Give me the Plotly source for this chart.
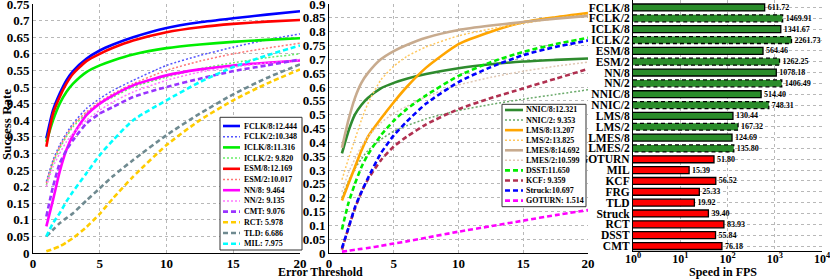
import plotly.graph_objects as go

W, H = 830, 279
def px(x):
    return x / W
def py(y):
    return 1 - y / H

FONT = "Liberation Serif"

# ---------------- data ----------------
thresholds = [1, 1.5, 2, 2.5, 3, 4, 5, 6, 7.5, 10, 12.5, 15, 17.5, 20]

# left panel
fclk8 = [0.345, 0.43, 0.48, 0.52, 0.548, 0.585, 0.61, 0.628, 0.65, 0.678, 0.695, 0.707, 0.718, 0.728]
fclk2 = [0.215, 0.28, 0.325, 0.36, 0.39, 0.435, 0.465, 0.49, 0.52, 0.565, 0.595, 0.62, 0.642, 0.66]
iclk8 = [0.335, 0.40, 0.45, 0.485, 0.51, 0.545, 0.565, 0.58, 0.598, 0.617, 0.628, 0.636, 0.642, 0.647]
iclk2 = [0.205, 0.27, 0.315, 0.35, 0.38, 0.42, 0.45, 0.47, 0.50, 0.53, 0.555, 0.573, 0.588, 0.60]
esm8 = [0.32, 0.42, 0.47, 0.51, 0.54, 0.578, 0.60, 0.618, 0.64, 0.665, 0.68, 0.69, 0.697, 0.702]
esm2 = [0.21, 0.275, 0.32, 0.355, 0.385, 0.425, 0.455, 0.48, 0.51, 0.55, 0.578, 0.60, 0.617, 0.632]
nn8 = [0.08, 0.16, 0.245, 0.31, 0.355, 0.415, 0.45, 0.475, 0.505, 0.535, 0.553, 0.565, 0.573, 0.58]
nn2 = [0.20, 0.26, 0.30, 0.335, 0.36, 0.40, 0.43, 0.455, 0.485, 0.52, 0.545, 0.56, 0.572, 0.58]
cmt = [0.11, 0.20, 0.27, 0.31, 0.34, 0.39, 0.42, 0.44, 0.47, 0.50, 0.525, 0.548, 0.565, 0.583]
rct = [0.005, 0.012, 0.02, 0.032, 0.045, 0.078, 0.118, 0.165, 0.23, 0.325, 0.40, 0.46, 0.51, 0.553]
tld = [0.05, 0.07, 0.09, 0.105, 0.12, 0.158, 0.195, 0.232, 0.28, 0.355, 0.42, 0.478, 0.527, 0.568]
mil = [0.05, 0.09, 0.12, 0.155, 0.185, 0.24, 0.295, 0.34, 0.40, 0.46, 0.515, 0.56, 0.595, 0.625]

left_names = ["FCLK/8", "FCLK/2", "ICLK/8", "ICLK/2", "ESM/8", "ESM/2",
              "NN/8", "NN/2", "CMT", "RCT", "TLD", "MIL"]
left_scores = [12.444, 10.348, 11.316, 9.820, 12.169, 10.017, 9.464, 9.135,
               9.076, 5.978, 6.686, 7.975]
left_series = [fclk8, fclk2, iclk8, iclk2, esm8, esm2, nn8, nn2, cmt, rct, tld, mil]

# middle panel
nnic8 = [0.36, 0.44, 0.50, 0.535, 0.56, 0.595, 0.615, 0.63, 0.647, 0.668, 0.682, 0.692, 0.698, 0.703]
nnic2 = [0.20, 0.26, 0.305, 0.34, 0.37, 0.41, 0.44, 0.46, 0.485, 0.515, 0.537, 0.556, 0.573, 0.59]
lms8 = [0.19, 0.25, 0.31, 0.37, 0.42, 0.485, 0.545, 0.60, 0.67, 0.755, 0.80, 0.834, 0.852, 0.867]
lms2 = [0.265, 0.34, 0.41, 0.48, 0.54, 0.625, 0.675, 0.71, 0.745, 0.785, 0.81, 0.83, 0.848, 0.862]
lmes8 = [0.38, 0.48, 0.56, 0.615, 0.65, 0.70, 0.73, 0.752, 0.778, 0.806, 0.822, 0.835, 0.847, 0.857]
lmes2 = [0.22, 0.29, 0.34, 0.385, 0.42, 0.47, 0.505, 0.53, 0.565, 0.607, 0.635, 0.657, 0.675, 0.69]
dsst = [0.085, 0.18, 0.25, 0.31, 0.355, 0.425, 0.478, 0.52, 0.57, 0.64, 0.69, 0.727, 0.755, 0.778]
kcf = [0.012, 0.09, 0.16, 0.22, 0.265, 0.335, 0.385, 0.42, 0.465, 0.52, 0.56, 0.595, 0.63, 0.665]
struck = [0.018, 0.09, 0.165, 0.22, 0.27, 0.36, 0.425, 0.475, 0.54, 0.618, 0.672, 0.715, 0.745, 0.768]
goturn = [0.005, 0.008, 0.012, 0.015, 0.018, 0.026, 0.034, 0.042, 0.055, 0.077, 0.097, 0.117, 0.137, 0.155]

mid_names = ["NNIC/8", "NNIC/2", "LMS/8", "LMS/2", "LMES/8", "LMES/2",
             "DSST", "KCF", "Struck", "GOTURN"]
mid_scores = [12.321, 9.353, 13.207, 13.825, 14.692, 10.599, 11.650, 9.359, 10.697, 1.514]
mid_series = [nnic8, nnic2, lms8, lms2, lmes8, lmes2, dsst, kcf, struck, goturn]

# right panel
speed_names = ["FCLK/8", "FCLK/2", "ICLK/8", "ICLK/2", "ESM/8", "ESM/2", "NN/8", "NN/2",
               "NNIC/8", "NNIC/2", "LMS/8", "LMS/2", "LMES/8", "LMES/2",
               "GOTURN", "MIL", "KCF", "FRG", "TLD", "Struck", "RCT", "DSST", "CMT"]
speed_fps = [611.72, 1469.91, 1341.67, 2261.73, 564.46, 1262.25, 1078.18, 1406.49,
             514.40, 748.31, 130.44, 167.32, 124.69, 135.80,
             51.80, 15.39, 56.52, 25.33, 19.92, 39.40, 83.93, 55.84, 76.18]

x_ticks = [0, 5, 10, 15, 20]
left_yticks = [i * 0.05 for i in range(16)]
mid_yticks = [i * 0.05 for i in range(19)]
fps_ticks = [1, 10, 100, 1000, 10000]
fps_ticktext = ["10<sup>0</sup>", "10<sup>1</sup>", "10<sup>2</sup>", "10<sup>3</sup>", "10<sup>4</sup>"]

# ---------------- styles ----------------
SOLID, DOT, DASH = "solid", "2px,2px", "5px,3px"
left_styles = [("#0000ff", SOLID, 2.6), ("#5555ff", DOT, 1.5), ("#00ee00", SOLID, 2.6),
               ("#66ee66", DOT, 1.5), ("#ff0000", SOLID, 2.6), ("#ff7777", DOT, 1.5),
               ("#ff00ff", SOLID, 2.6), ("#ff77ff", DOT, 1.5), ("#9933ff", DASH, 2.6),
               ("#ffcc00", DASH, 2.6), ("#6f8a90", DASH, 2.6), ("#00ffff", DASH, 2.6)]
mid_styles = [("#2e8b2e", SOLID, 2.6), ("#6aaa6a", DOT, 1.5), ("#ffa500", SOLID, 2.6),
              ("#ffc860", DOT, 1.5), ("#c8ab8e", SOLID, 2.6), ("#e0c8b4", DOT, 1.5),
              ("#00ee00", DASH, 2.6), ("#b03050", DASH, 2.6), ("#0000ff", DASH, 2.6),
              ("#ff00ff", DASH, 2.6)]
GREEN, RED = "#2a8c2a", "#ff0000"

fig = go.Figure()

for ys, nm, (c, d, w) in zip(left_series, left_names, left_styles):
    fig.add_trace(go.Scatter(x=thresholds, y=ys, mode="lines", name=nm, showlegend=False,
                             line=dict(color=c, dash=d, width=w, shape="spline", smoothing=0.6),
                             xaxis="x", yaxis="y"))
for ys, nm, (c, d, w) in zip(mid_series, mid_names, mid_styles):
    fig.add_trace(go.Scatter(x=thresholds, y=ys, mode="lines", name=nm, showlegend=False,
                             line=dict(color=c, dash=d, width=w, shape="spline", smoothing=0.6),
                             xaxis="x2", yaxis="y2"))

# bars
idx = list(range(len(speed_names)))
n_green = 14
colors = [GREEN if i < n_green else RED for i in idx]
dashed = [nm.endswith("/2") for nm in speed_names]
line_w = [0 if dd else 1.3 for dd in dashed]
BW = 0.64
fig.add_trace(go.Bar(x=speed_fps, y=idx, orientation="h", width=BW,
                     marker=dict(color=colors, line=dict(color="black", width=line_w)),
                     text=[f"{v:.2f}" for v in speed_fps], textposition="outside",
                     textfont=dict(size=8, color="black", family=FONT, weight="bold"),
                     constraintext="none", cliponaxis=False, showlegend=False,
                     xaxis="x3", yaxis="y3"))
for i, v, dd in zip(idx, speed_fps, dashed):
    if dd:
        fig.add_trace(go.Scatter(x=[1, v, v, 1], y=[i - BW / 2, i - BW / 2, i + BW / 2, i + BW / 2],
                                 mode="lines", line=dict(color="black", width=1.3, dash="4px,3px"),
                                 showlegend=False, hoverinfo="skip", xaxis="x3", yaxis="y3"))

grid = dict(showgrid=True, gridcolor="#b8b8b8", griddash="dot", gridwidth=1,
            showline=True, linecolor="black", linewidth=1, zeroline=False, ticks="",
            automargin=False, ticklabeloverflow="allow")

fig.update_layout(
    template="none",
    width=W, height=H, margin=dict(l=0, r=0, t=0, b=0, pad=0, autoexpand=False),
    paper_bgcolor="white", plot_bgcolor="white",
    font=dict(family=FONT, size=13, color="black", weight="bold"),
    xaxis=dict(domain=[px(33), px(300)], range=[0, 20], tickvals=x_ticks, anchor="y",
               ticklabelstandoff=-2, **grid),
    yaxis=dict(domain=[1 - 253 / H, 1 - 4 / H], range=[0, 0.75], tickvals=left_yticks,
               ticktext=[f"{v:.2f}".rstrip("0").rstrip(".") for v in left_yticks], anchor="x", **grid),
    xaxis2=dict(domain=[px(329), px(588)], range=[0, 20], tickvals=x_ticks, anchor="y2",
                ticklabelstandoff=-2, **grid),
    yaxis2=dict(domain=[1 - 253 / H, 1 - 4 / H], range=[0, 0.9], tickvals=mid_yticks,
                ticktext=[f"{v:.2f}".rstrip("0").rstrip(".") for v in mid_yticks], anchor="x2", **grid),
    xaxis3=dict(domain=[px(633), px(822)], type="log", range=[0, 4], tickvals=fps_ticks,
                ticktext=fps_ticktext, anchor="y3", tickfont=dict(size=12),
                ticklabelstandoff=-3, **grid),
    yaxis3=dict(domain=[1 - 251 / H, 1.0], range=[22.46, -0.69], tickvals=idx, ticktext=speed_names,
                anchor="x3", tickfont=dict(size=11.5), **grid),
    bargap=0.3,
)

shapes, annots = [], []

def add_legend(box, names, scores, styles, y0, step, lx0, lx1, tx):
    x0, y_top, x1, y_bot = box
    shapes.append(dict(type="rect", xref="paper", yref="paper", x0=px(x0), x1=px(x1),
                       y0=py(y_bot), y1=py(y_top), line=dict(color="#333333", width=1),
                       fillcolor="white", layer="above"))
    for k, (nm, sc, (c, d, w)) in enumerate(zip(names, scores, styles)):
        yy = y0 + k * step
        shapes.append(dict(type="line", xref="paper", yref="paper", x0=px(lx0), x1=px(lx1),
                           y0=py(yy), y1=py(yy), line=dict(color=c, dash=d, width=w), layer="above"))
        label = f"{nm}:{' ' if sc < 10 else ''}{sc:.3f}"
        annots.append(dict(text=label, xref="paper", yref="paper", x=px(tx), y=py(yy),
                           xanchor="left", yanchor="middle", showarrow=False,
                           font=dict(size=8, family=FONT, color="black", weight="bold")))

add_legend((220, 117.3, 302, 250), left_names, left_scores, left_styles, 126, 10.7, 223, 240, 242)
add_legend((502, 104.3, 586, 206.7), mid_names, mid_scores, mid_styles, 110, 10.07, 505, 523, 524)

annots.append(dict(text="Success Rate", xref="paper", yref="paper", x=px(6), y=py(125),
                   xanchor="center", yanchor="middle",
                   textangle=-90, showarrow=False, font=dict(size=13)))
annots.append(dict(text="Error Threshold", xref="paper", yref="paper", x=px(320), y=py(272),
                   xanchor="center", yanchor="middle", showarrow=False, font=dict(size=12)))
annots.append(dict(text="Speed in FPS", xref="paper", yref="paper", x=px(723), y=py(271.5),
                   xanchor="center", yanchor="middle", showarrow=False, font=dict(size=12)))

fig.update_layout(shapes=shapes, annotations=annots)
fig.write_html("out.html", config={"displayModeBar": False},
               post_script="document.body.style.margin='0';document.body.style.padding='0';")
